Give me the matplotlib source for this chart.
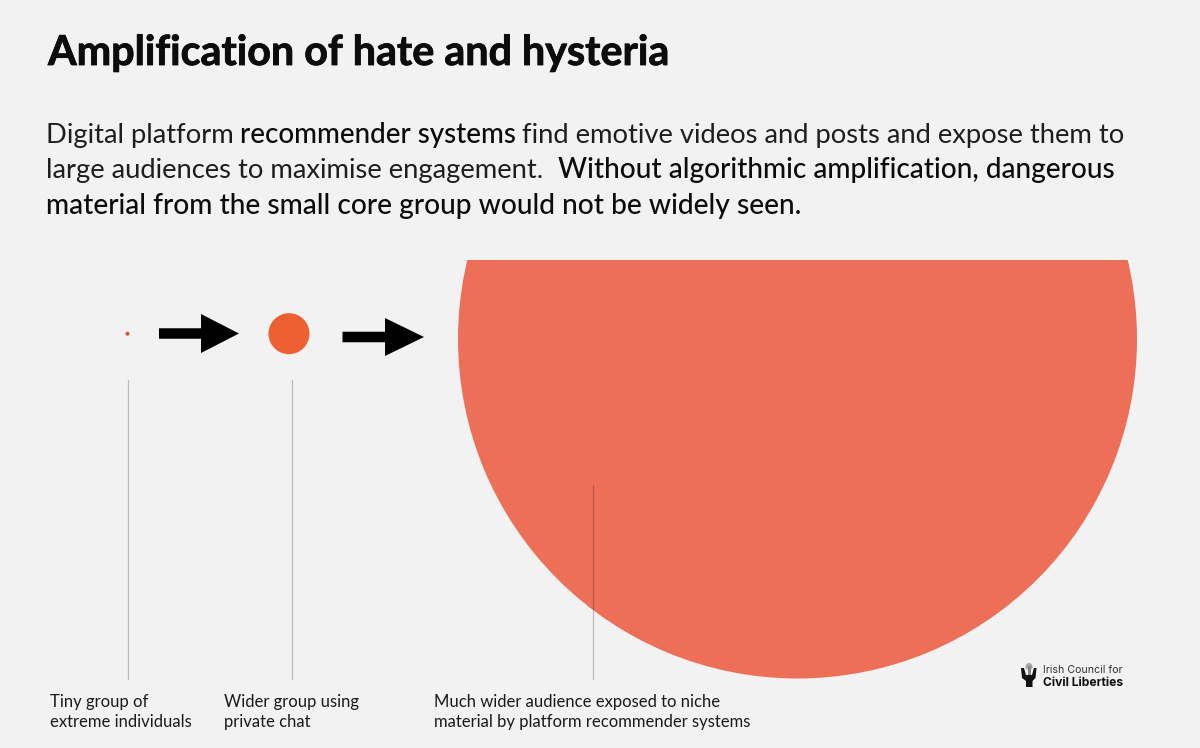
import matplotlib
matplotlib.use("Agg")
import matplotlib.pyplot as plt
import matplotlib.patheffects as pe
from matplotlib.patches import Circle, FancyArrow, Polygon, Rectangle

BACKGROUND = "#F2F2F2"
FONT = "Lato"

title = "Amplification of hate and hysteria"

# (text, is_emphasised) for each run of the intro paragraph
intro_line1 = [("Digital platform", False), ("recommender systems", True),
               ("find emotive videos and posts and expose them to", False)]
intro_line2 = [("large audiences to maximise engagement.", False),
               ("Without algorithmic amplification, dangerous", True)]
intro_line3 = [("material from the small core group would not be widely seen.", True)]

group_labels = [["Tiny group of", "extreme individuals"],
                ["Wider group using", "private chat"],
                ["Much wider audience exposed to niche", "material by platform recommender systems"]]
group_radii = [2, 20.5, 339.5]
group_colors = ["#D9503A", "#EE6031", "#EE6F58"]

logo_lines = ["Irish Council for", "Civil Liberties"]


def main():
    fig = plt.figure(figsize=(12, 7.48), dpi=100, facecolor=BACKGROUND)
    ax = fig.add_axes([0, 0, 1, 1])
    ax.set_xlim(0, 1200)
    ax.set_ylim(748, 0)
    ax.axis("off")

    ax.text(48, 65, title, fontsize=29.7, fontweight="bold", family=FONT, color="#0c0c0c", va="baseline",
            path_effects=[pe.withStroke(linewidth=0.6, foreground="#0c0c0c")])

    ###

    runs = [(intro_line1, 142.5, [46, 240, 522], 20.0),
            (intro_line2, 178, [46, 558], 20.2),
            (intro_line3, 213.5, [46], 20.25)]
    for line, y, starts, strong_size in runs:
        for (text, strong), x in zip(line, starts):
            ax.text(x, y, text, fontsize=strong_size if strong else 19.7, family=FONT, va="baseline",
                    color="#0c0c0c" if strong else "#1e1e1e",
                    fontweight="medium" if strong else "normal")

    ###

    clip = Rectangle((0, 260), 1200, 488, transform=ax.transData)
    centers = [(127.5, 333.7), (289, 333.7), (797.5, 339)]
    for (cx, cy), r, c in zip(centers, group_radii, group_colors):
        circle = Circle((cx, cy), r, color=c, lw=0, zorder=1)
        ax.add_patch(circle)
        circle.set_clip_path(clip)

    ax.add_patch(FancyArrow(159, 333.5, 80, 0, width=10.5, head_width=39, head_length=38,
                            length_includes_head=True, color="black", lw=0))
    ax.add_patch(FancyArrow(342.5, 337, 81.5, 0, width=10.5, head_width=38, head_length=39,
                            length_includes_head=True, color="black", lw=0))

    for x, top in zip([128, 292, 593], [380, 380, 485]):
        ax.plot([x, x], [top, 679], color="black", alpha=0.22, lw=0.9, zorder=2)

    for lines, x in zip(group_labels, [50.5, 224, 434]):
        ax.text(x, 706.5, lines[0], fontsize=12, family=FONT, va="baseline", color="#1a1a1a")
        ax.text(x, 727, lines[1], fontsize=12, family=FONT, va="baseline", color="#1a1a1a")

    ###

    ax.text(1043, 673, logo_lines[0], fontsize=7.6, family="Inter", va="baseline", color="#333333")
    ax.text(1043, 685.5, logo_lines[1], fontsize=8.7, family="Inter", fontweight="bold", va="baseline", color="#111111")
    # hand icon
    ax.add_patch(Circle((1029, 666.5), 3.5, color="#aaaaaa", lw=0))
    ax.add_patch(Rectangle((1027.5, 666), 3, 10, color="#8a8a8a", lw=0))
    ax.add_patch(Polygon([(1021, 668), (1024, 668), (1026, 675), (1032, 675), (1034, 668), (1036.5, 668),
                          (1035.5, 678), (1032.5, 681), (1032.5, 687), (1026, 687), (1026, 681), (1022, 678)],
                         color="#111111", lw=0))

    fig.savefig("out.png", dpi=100, facecolor=BACKGROUND)


if __name__ == "__main__":
    main()
